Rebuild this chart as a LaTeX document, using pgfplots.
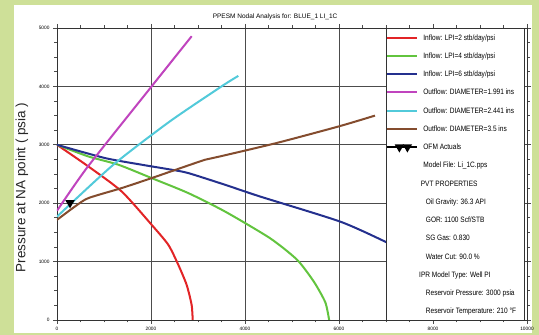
\documentclass[border=0pt]{standalone}
\usepackage{pgfplots}
\pgfplotsset{compat=1.18}
\usepackage{fontspec}
\setmainfont{Liberation Sans}
\definecolor{bgg}{RGB}{206,224,152}
\definecolor{cred}{RGB}{226,36,38}
\definecolor{cgreen}{RGB}{98,196,62}
\definecolor{cblue}{RGB}{36,48,142}
\definecolor{cpink}{RGB}{192,68,190}
\definecolor{ccyan}{RGB}{82,202,218}
\definecolor{cbrown}{RGB}{132,76,46}
\pgfplotsset{
  linelegend/.style={legend image code/.code={\path (0pt,0pt) -- (30pt,0pt); \draw[##1] (2pt,0pt) -- (30pt,0pt);}},
  ofmlegend/.style={legend image code/.code={\path (0pt,0pt) -- (30pt,0pt); \draw[##1] plot coordinates {(12pt,0pt) (20pt,0pt)};}},
}
\newcommand\LE[1]{\makebox[101pt][l]{\scalebox{0.84}[1]{#1}}}
\begin{document}
\begin{tikzpicture}
\fill[bgg] (0,0) rectangle (539pt,335pt);
\fill[white] (14pt,2pt) rectangle (532pt,330pt);
\begin{axis}[
  at={(57pt,15pt)}, anchor=south west,
  scale only axis, width=470pt, height=292pt,
  xmin=0, xmax=10000, ymin=0, ymax=5000,
  xtick={0,2000,...,10000}, ytick={0,1000,...,5000},
  minor tick num=3,
  grid=major, major grid style={draw=black!70, line width=0.7pt},
  axis line style={black!80, line width=0.8pt},
  tick align=outside, major tick length=4pt, minor tick length=2.5pt,
  every tick/.style={black!70, line width=0.6pt},
  ticklabel style={font=\fontsize{4.8}{5}\selectfont},
  /pgf/number format/assume math mode=true,
  /pgf/number format/1000 sep={},
  scaled ticks=false,
  ylabel={Pressure at NA point ( psia )},
  ylabel style={at={(axis description cs:-0.0745,0.454)}, anchor=center, font=\fontsize{13.5}{14}\selectfont, black!85},
  title={PPESM Nodal Analysis for: BLUE\_1 LI\_1C},
  title style={at={(axis description cs:0.464,1.017)}, anchor=center, font=\fontsize{6.5}{7}\selectfont},
  legend style={at={(rel axis cs:0.7,1)}, anchor=north west, draw=black!80, line width=0.8pt, fill=white,
    inner sep=0pt, row sep=0pt, column sep=5pt,
    nodes={inner sep=0pt, text height=11.65pt, text depth=6.6pt},
    font=\fontsize{7.8}{9}\selectfont},
  legend cell align=left,
  linelegend,
  every axis plot/.append style={line width=2pt},
]
\addplot[cred, no marks, smooth, tension=0.4] coordinates {(0,3000) (666,2630) (1376,2201) (2014,1630) (2369,1287) (2582,943) (2759,600) (2865,257) (2887,0)};
\addlegendentry{\LE{Inflow: LPI=2 stb/day/psi}}
\addplot[cgreen, no marks, smooth, tension=0.4] coordinates {(0,3000) (666,2801) (1305,2659) (2014,2430) (2794,2173) (3574,1858) (4532,1401) (5110,1030) (5470,650) (5710,300) (5790,0)};
\addlegendentry{\LE{Inflow: LPI=4 stb/day/psi}}
\addplot[cblue, no marks, smooth, tension=0.4] coordinates {(0,3000) (1021,2773) (1802,2659) (2440,2573) (2794,2516) (3574,2316) (4319,2115) (6021,1686) (6979,1343) (7300,1200)};
\addlegendentry{\LE{Inflow: LPI=6 stb/day/psi}}
\addplot[cpink, no marks, smooth, tension=0.4] coordinates {(0,1870) (650,2620) (2015,4002) (2866,4860)};
\addlegendentry{\LE{Outflow: DIAMETER=1.991 ins}}
\addplot[ccyan, no marks, smooth, tension=0.4] coordinates {(0,1770) (1199,2659) (2400,3400) (3504,4002) (3858,4180)};
\addlegendentry{\LE{Outflow: DIAMETER=2.441 ins}}
\addplot[cbrown, no marks, smooth, tension=0.4] coordinates {(0,1715) (383,1944) (666,2087) (1376,2259) (2014,2430) (3149,2744) (3468,2801) (4674,3031) (6000,3316) (6766,3500)};
\addlegendentry{\LE{Outflow: DIAMETER=3.5 ins}}
\addplot[only marks, mark=triangle*, mark size=3.5pt, black, mark options={rotate=180, fill=black}, ofmlegend]
  coordinates {(277,2007)};
\addlegendentry{\LE{OFM Actuals}}
\addlegendimage{empty legend}\addlegendentry{\LE{Model File: Li\_1C.pps}}
\addlegendimage{empty legend}\addlegendentry{\LE{\hspace{-3pt}PVT PROPERTIES}}
\addlegendimage{empty legend}\addlegendentry{\LE{\hspace{3pt}Oil Gravity: 36.3 API}}
\addlegendimage{empty legend}\addlegendentry{\LE{\hspace{3pt}GOR: 1100 Scf/STB}}
\addlegendimage{empty legend}\addlegendentry{\LE{\hspace{3pt}SG Gas: 0.830}}
\addlegendimage{empty legend}\addlegendentry{\LE{\hspace{3pt}Water Cut: 90.0 \%}}
\addlegendimage{empty legend}\addlegendentry{\LE{\hspace{-5pt}IPR Model Type: Well PI}}
\addlegendimage{empty legend}\addlegendentry{\LE{\hspace{3pt}Reservoir Pressure: 3000 psia}}
\addlegendimage{empty legend}\addlegendentry{\LE{\hspace{3pt}Reservoir Temperature: 210 °F}}
\end{axis}
\pgfresetboundingbox
\useasboundingbox (0,0) rectangle (539pt,335pt);
\end{tikzpicture}
\end{document}
